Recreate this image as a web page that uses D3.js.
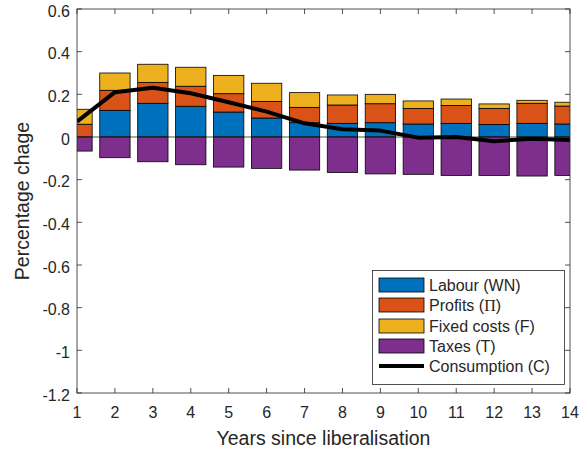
<!DOCTYPE html>
<html>
<head>
<meta charset="utf-8">
<script src="https://cdn.jsdelivr.net/npm/d3@7"></script>
<style>
  html, body { margin: 0; padding: 0; background: #fff; }
  svg text { font-family: "Liberation Sans", Arial, Helvetica, sans-serif; fill: #262626; }
</style>
</head>
<body>
<svg id="chart" width="588" height="452"></svg>
<script>
// Decomposition of the consumption response, by year after liberalisation
const years = [1, 2, 3, 4, 5, 6, 7, 8, 9, 10, 11, 12, 13, 14];
const labour = [0.000, 0.125, 0.158, 0.144, 0.117, 0.089, 0.067, 0.064, 0.067, 0.061, 0.064, 0.059, 0.064, 0.061];
const profits = [0.060, 0.094, 0.098, 0.094, 0.086, 0.078, 0.072, 0.086, 0.089, 0.073, 0.084, 0.075, 0.094, 0.084];
const fixedCosts = [0.070, 0.081, 0.085, 0.089, 0.086, 0.085, 0.069, 0.047, 0.044, 0.035, 0.030, 0.021, 0.014, 0.018];
const taxes = [-0.066, -0.097, -0.116, -0.130, -0.141, -0.147, -0.155, -0.166, -0.173, -0.175, -0.180, -0.180, -0.183, -0.180];
const consumption = [0.072, 0.210, 0.231, 0.205, 0.163, 0.119, 0.064, 0.036, 0.030, -0.003, 0.000, -0.020, -0.008, -0.014];

const yTicks = [0.6, 0.4, 0.2, 0, -0.2, -0.4, -0.6, -0.8, -1, -1.2];
const xTicks = years;

const series = [
  { name: "Labour (WN)", values: labour, color: "#0072BD" },
  { name: "Profits (Π)", values: profits, color: "#D95319" },
  { name: "Fixed costs (F)", values: fixedCosts, color: "#EDB120" },
  { name: "Taxes (T)", values: taxes, color: "#7E2F8E" }
];

const svg = d3.select("#chart");
const plotLeft = 77, plotRight = 570, plotTop = 9, plotBottom = 393;

const x = d3.scaleLinear().domain([1, 14]).range([plotLeft, plotRight]);
const y = d3.scaleLinear().domain([-1.2, 0.6]).range([plotBottom, plotTop]);
const barW = x(1.8) - x(1);

svg.append("defs").append("clipPath").attr("id", "plotClip")
  .append("rect").attr("x", plotLeft).attr("y", plotTop)
  .attr("width", plotRight - plotLeft).attr("height", plotBottom - plotTop);

const plot = svg.append("g").attr("clip-path", "url(#plotClip)");

// Stacked bars: positives stack upward, taxes downward from zero
const rects = [];
years.forEach((yr, i) => {
  let base = 0;
  [labour, profits, fixedCosts].forEach((arr, k) => {
    const v = arr[i];
    rects.push({ yr, y0: base, y1: base + v, color: series[k].color });
    base += v;
  });
  rects.push({ yr, y0: 0, y1: taxes[i], color: series[3].color });
});

plot.selectAll("rect.bar").data(rects).join("rect")
  .attr("class", "bar")
  .attr("x", d => x(d.yr) - barW / 2)
  .attr("width", barW)
  .attr("y", d => y(Math.max(d.y0, d.y1)))
  .attr("height", d => Math.abs(y(d.y0) - y(d.y1)))
  .attr("fill", d => d.color)
  .attr("stroke", "#000")
  .attr("stroke-width", 0.8);

// Baseline at zero
plot.append("line")
  .attr("x1", plotLeft).attr("x2", plotRight)
  .attr("y1", y(0)).attr("y2", y(0))
  .attr("stroke", "#262626").attr("stroke-width", 0.8);

// Consumption line
plot.append("path")
  .datum(years.map((yr, i) => [yr, consumption[i]]))
  .attr("fill", "none")
  .attr("stroke", "#000")
  .attr("stroke-width", 4)
  .attr("stroke-linejoin", "round")
  .attr("d", d3.line().x(d => x(d[0])).y(d => y(d[1])));

// Axes (box with inward ticks)
const axisColor = "#262626";
const axes = svg.append("g");
axes.append("rect").attr("x", plotLeft).attr("y", plotTop)
  .attr("width", plotRight - plotLeft).attr("height", plotBottom - plotTop)
  .attr("fill", "none").attr("stroke", axisColor).attr("stroke-width", 0.8);

const tickLen = 5;
yTicks.forEach(t => {
  axes.append("line").attr("x1", plotLeft).attr("x2", plotLeft + tickLen)
    .attr("y1", y(t)).attr("y2", y(t)).attr("stroke", axisColor).attr("stroke-width", 0.8);
  axes.append("line").attr("x1", plotRight).attr("x2", plotRight - tickLen)
    .attr("y1", y(t)).attr("y2", y(t)).attr("stroke", axisColor).attr("stroke-width", 0.8);
  axes.append("text").attr("x", plotLeft - 7).attr("y", y(t)).attr("dy", "0.47em")
    .attr("text-anchor", "end").attr("font-size", 16).text(String(t));
});
xTicks.forEach(t => {
  axes.append("line").attr("x1", x(t)).attr("x2", x(t))
    .attr("y1", plotBottom).attr("y2", plotBottom - tickLen).attr("stroke", axisColor).attr("stroke-width", 0.8);
  axes.append("line").attr("x1", x(t)).attr("x2", x(t))
    .attr("y1", plotTop).attr("y2", plotTop + tickLen).attr("stroke", axisColor).attr("stroke-width", 0.8);
  axes.append("text").attr("x", x(t)).attr("y", 418)
    .attr("text-anchor", "middle").attr("font-size", 16).text(String(t));
});

svg.append("text").attr("x", (plotLeft + plotRight) / 2).attr("y", 445)
  .attr("text-anchor", "middle").attr("font-size", 19.5).text("Years since liberalisation");
svg.append("text")
  .attr("transform", `translate(29,${(plotTop + plotBottom) / 2}) rotate(-90)`)
  .attr("text-anchor", "middle").attr("font-size", 19.5).text("Percentage chage");

// Legend
const lg = svg.append("g");
lg.append("rect").attr("x", 372.5).attr("y", 270.5).attr("width", 192).attr("height", 114)
  .attr("fill", "#fff").attr("stroke", axisColor).attr("stroke-width", 0.8);
const rowY = [285, 305, 326, 346, 366];
series.forEach((s, i) => {
  lg.append("rect").attr("x", 379).attr("y", rowY[i] - 7).attr("width", 45).attr("height", 14)
    .attr("fill", s.color).attr("stroke", "#000").attr("stroke-width", 0.8);
  const t = lg.append("text").attr("x", 429).attr("y", rowY[i]).attr("dy", "0.36em").attr("font-size", 16);
  if (s.name.includes("Π")) {
    t.append("tspan").text("Profits (");
    t.append("tspan").attr("font-family", "'Liberation Serif', 'Times New Roman', serif").text("Π");
    t.append("tspan").text(")");
  } else {
    t.text(s.name);
  }
});
lg.append("line").attr("x1", 379).attr("x2", 424).attr("y1", rowY[4]).attr("y2", rowY[4])
  .attr("stroke", "#000").attr("stroke-width", 4);
lg.append("text").attr("x", 429).attr("y", rowY[4]).attr("dy", "0.36em").attr("font-size", 16)
  .text("Consumption (C)");
</script>
</body>
</html>
